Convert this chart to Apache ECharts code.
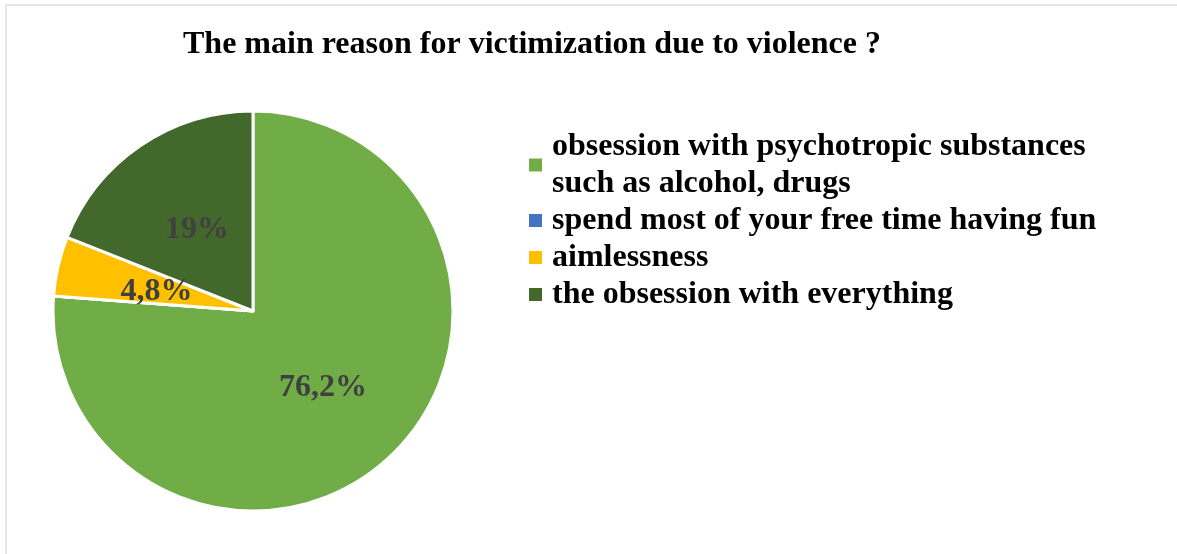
<!DOCTYPE html>
<html>
<head>
<meta charset="utf-8">
<script src="https://cdn.jsdelivr.net/npm/echarts@6/dist/echarts.min.js"></script>
<style>
html,body{margin:0;padding:0;background:#fff;}
#chart{width:1177px;height:554px;}
</style>
</head>
<body>
<div id="chart"></div>
<script>
const categories = [
  "obsession with psychotropic substances\nsuch as alcohol, drugs",
  "spend most of your free time having fun",
  "aimlessness",
  "the obsession with everything"
];
const values = [76.2, 0, 4.8, 19];
const valueLabels = ["76,2%", "", "4,8%", "19%"];
const colors = ["#70AD47", "#4472C4", "#FFC000", "#43682B"];
const labelOffsets = [[0, 1], [0, 0], [4, 4], [2, 4]];

const chart = echarts.init(document.getElementById('chart'));
chart.setOption({
  backgroundColor: '#ffffff',
  animation: false,
  graphic: [{
    type: 'rect',
    shape: {x: 6, y: 5, width: 1190, height: 570},
    style: {fill: 'none', stroke: '#e6e6e6', lineWidth: 2}
  }],
  title: {
    text: 'The main reason for victimization due to violence ?',
    left: 532, top: 29, textAlign: 'center', padding: 0,
    textStyle: {fontFamily: 'Liberation Serif', fontWeight: 'bold', fontSize: 32, color: '#000'}
  },
  legend: {
    orient: 'vertical',
    left: 529, top: 128, padding: 0,
    itemWidth: 13, itemHeight: 13, itemGap: 0,
    icon: 'rect',
    itemStyle: {borderWidth: 0},
    data: categories,
    textStyle: {fontFamily: 'Liberation Serif', fontWeight: 'bold', fontSize: 32, color: '#000', lineHeight: 37, padding: [0,0,0,5]}
  },
  series: [{
    type: 'pie',
    center: [253, 311],
    radius: [0, 200],
    startAngle: 90,
    clockwise: true,
    avoidLabelOverlap: false,
    itemStyle: {borderColor: '#fff', borderWidth: 3},
    label: {
      show: true,
      position: 'inside',
      formatter: p => valueLabels[p.dataIndex],
      fontFamily: 'Liberation Serif', fontWeight: 'bold', fontSize: 32, color: '#404040'
    },
    labelLine: {show: false},
    emphasis: {disabled: true},
    data: categories.map((c, i) => ({name: c, value: values[i], itemStyle: {color: colors[i]}, label: {offset: labelOffsets[i]}}))
  }]
});
</script>
</body>
</html>
